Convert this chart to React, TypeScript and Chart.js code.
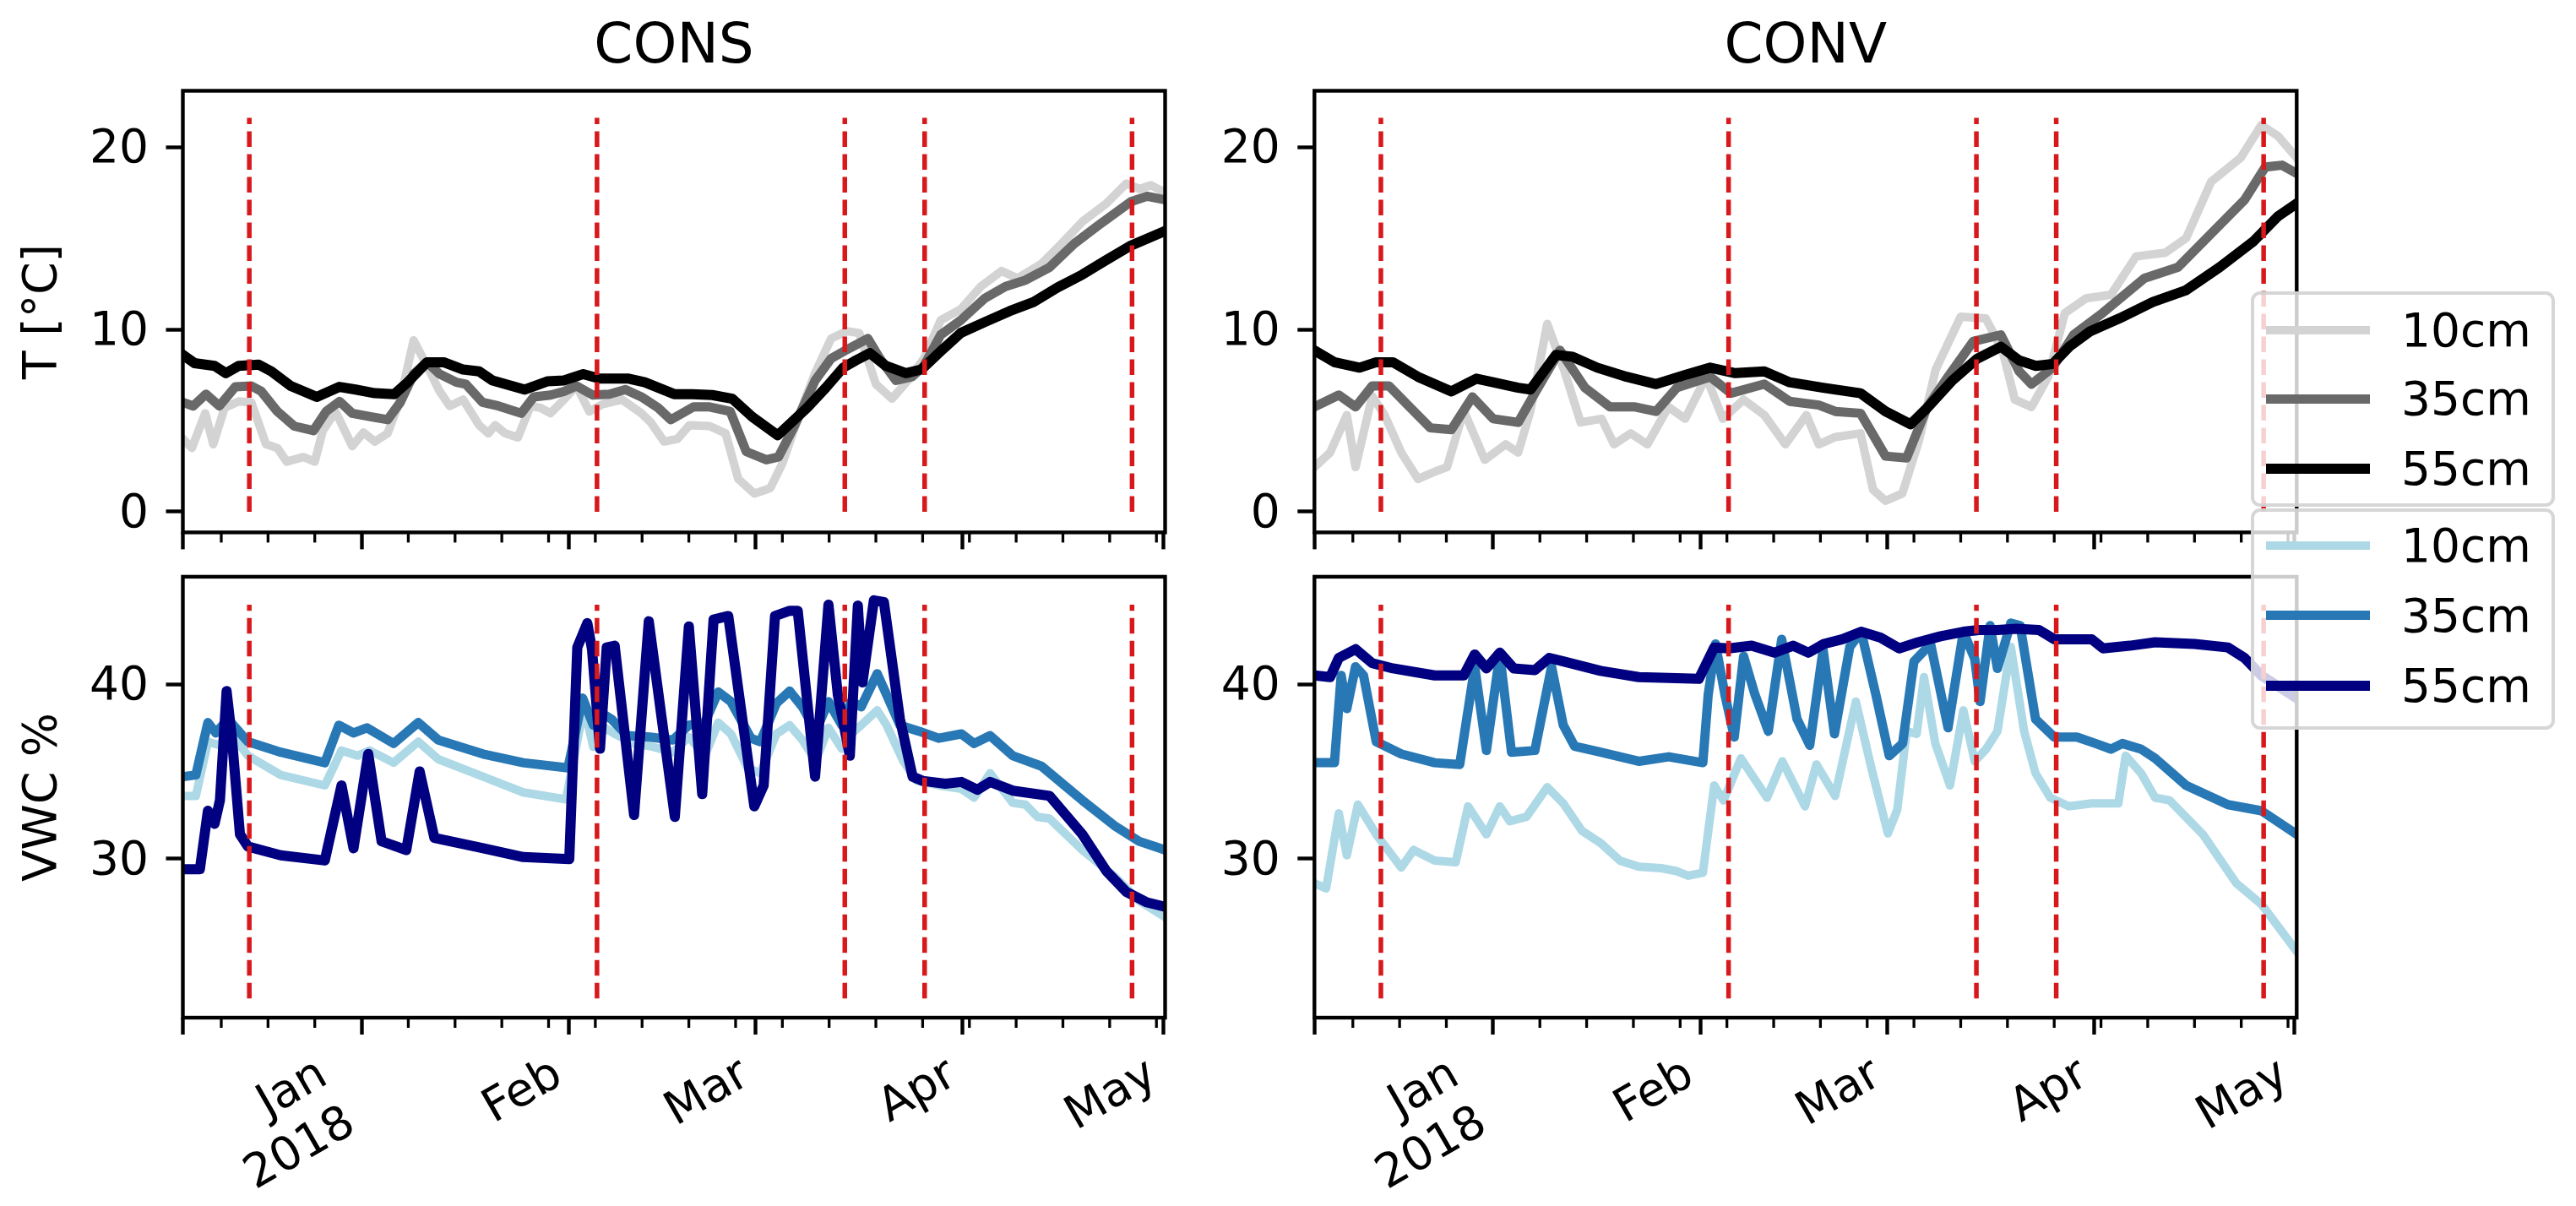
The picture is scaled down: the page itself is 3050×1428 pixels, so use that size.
import React, { useEffect, useRef } from 'react';
import { Chart, registerables } from 'chart.js';

Chart.register(...registerables);

const FONT = "'DejaVu Sans', 'Noto Sans', sans-serif";
const FS = 55;
const TITLE_FS = 66;

// ---- axes / events ----
const X_MIN = -26.75;
const X_MAX = 120.3;
const MONTH_TICKS = [0, 31, 59, 90, 120];
const MONTH_LABELS = [['Jan', '2018'], ['Feb'], ['Mar'], ['Apr'], ['May']];
const MINOR_TICKS = [-21, -14, -7, 7, 14, 21, 28, 35, 42, 49, 56, 63, 70, 77, 84, 91, 98, 105, 112, 119];
const EVENT_DAYS = [-16.8, 35.25, 72.35, 84.3, 115.35];
const T_TICKS = [0, 10, 20];
const VWC_TICKS = [30, 40];
const T_RANGE = [-1.13, 23.08];
const VWC_RANGE = [20.9, 46.15];
const T_EVENT_SPAN = [0, 21.6];
const VWC_EVENT_SPAN = [22.0, 44.55];
const DEPTHS = ['10cm', '35cm', '55cm'];
const T_COLORS = ['#d3d3d3', '#696969', '#000000'];
const VWC_COLORS = ['#add8e6', '#2878b5', '#000080'];
const LINE_WIDTHS = [10, 11, 12];
const EVENT_COLOR = '#d7191c';

// ---- CONS temperature ----
const consT10Days = [-26.75, -25.4, -23.4, -22.2, -20.5, -18.4, -16.5, -14.3, -12.6, -11.2, -8.7, -7.0, -5.8, -3.9, -1.4, 0.3, 2.0, 3.9, 5.8, 7.8, 9.8, 11.7, 13.2, 15.2, 17.6, 19.0, 20.0, 21.5, 23.4, 25.3, 26.8, 28.3, 30.3, 32.2, 34.1, 36.1, 39.0, 41.9, 43.3, 45.3, 47.3, 49.1, 52.1, 54.5, 56.4, 58.8, 61.2, 63, 65.5, 67.9, 70.3, 72.7, 74.5, 77, 79.4, 81.8, 84.2, 86.7, 89.7, 92.7, 95.8, 98.2, 101.8, 104.8, 107.9, 111.5, 114.5, 116.4, 118.2, 120.3];
const consT10 = [4.0, 3.5, 5.4, 3.7, 5.7, 6.05, 6.0, 3.7, 3.5, 2.75, 3.0, 2.75, 4.45, 5.5, 3.6, 4.35, 3.85, 4.3, 6.15, 9.4, 8.0, 6.6, 5.8, 6.15, 4.75, 4.3, 4.75, 4.3, 4.07, 5.8, 5.7, 5.4, 6.15, 6.9, 5.5, 5.9, 6.15, 5.4, 4.9, 3.85, 4.0, 4.75, 4.7, 4.3, 1.8, 1.0, 1.3, 2.65, 5.3, 7.6, 9.5, 9.9, 9.8, 7.0, 6.2, 7.2, 8.4, 10.5, 11.1, 12.35, 13.2, 12.8, 13.6, 14.7, 15.9, 16.9, 18.0, 17.7, 17.9, 17.5];

const consT35Days = [-26.75, -25.2, -23.3, -21.3, -18.9, -16.5, -15.0, -12.6, -10.1, -7.2, -5.3, -3.3, -1.4, 1.5, 3.9, 5.8, 7.8, 9.8, 11.7, 14.2, 15.6, 18.1, 20.5, 23.9, 25.8, 28.3, 30.3, 32.2, 34.6, 37.1, 39.5, 41.9, 44.4, 46.3, 49.7, 52.1, 55.2, 57.6, 60.6, 62.4, 64.8, 67.9, 70.3, 72.7, 75.8, 77.6, 80, 82.4, 84.2, 86.7, 89.7, 93.3, 96.4, 99.4, 103, 106.7, 110.3, 115.2, 117.6, 120.3];
const consT35 = [6.0, 5.8, 6.45, 5.8, 6.85, 6.9, 6.6, 5.5, 4.7, 4.45, 5.5, 6.05, 5.4, 5.2, 5.05, 6.0, 7.55, 8.2, 7.55, 7.1, 7.0, 6.0, 5.8, 5.4, 6.3, 6.4, 6.6, 6.9, 6.4, 6.45, 6.7, 6.3, 5.7, 5.05, 5.75, 5.75, 5.5, 3.3, 2.85, 3.0, 4.7, 7.2, 8.4, 8.9, 9.5, 8.4, 7.2, 7.4, 8.0, 9.7, 10.5, 11.7, 12.35, 12.7, 13.4, 14.7, 15.7, 17.0, 17.3, 17.1];

const consT55Days = [-26.75, -25, -22, -20.3, -18.4, -15.4, -13.5, -10.6, -6.7, -3.3, -0.9, 2, 4.9, 6.9, 9.8, 12.3, 15.2, 17.6, 19.6, 24.4, 27.8, 30.3, 33.2, 35.6, 40, 42.4, 46.8, 49.5, 52.5, 55.5, 58.5, 62.3, 66.7, 69.5, 72.1, 74, 76.1, 78.5, 81.5, 83.8, 86.7, 89.7, 93.3, 97, 100.6, 104.2, 107.9, 111.5, 115.2, 120.3];
const consT55 = [8.6, 8.15, 8.0, 7.6, 8.0, 8.07, 7.7, 6.9, 6.3, 6.85, 6.7, 6.5, 6.45, 7.1, 8.2, 8.2, 7.8, 7.7, 7.2, 6.7, 7.15, 7.2, 7.55, 7.3, 7.3, 7.1, 6.45, 6.45, 6.4, 6.2, 5.2, 4.2, 5.7, 6.8, 7.9, 8.3, 8.7, 8.0, 7.6, 7.8, 8.8, 9.8, 10.4, 11.0, 11.5, 12.3, 13.0, 13.8, 14.6, 15.4];

// ---- CONV temperature ----
const convT10Days = [-26.75, -24.4, -21.9, -20.6, -18.1, -16.25, -13.75, -11.25, -8.75, -6.9, -4.4, -1.25, 1.9, 3.75, 5.6, 8.1, 10.6, 13.1, 16.25, 18.1, 20.6, 23.1, 26.25, 28.75, 31.9, 34.4, 37.5, 40.6, 43.75, 46.9, 48.75, 51.25, 55, 56.9, 58.75, 61.25, 63.75, 66.25, 70, 73.75, 76.25, 78.1, 80.6, 83.1, 85.6, 88.75, 92.5, 96.25, 100.6, 103.75, 107.5, 111.9, 115, 117.5, 120.3];
const convT10 = [2.45, 3.25, 5.3, 2.45, 6.35, 5.3, 3.25, 1.8, 2.2, 2.45, 5.55, 2.85, 3.7, 3.25, 5.55, 10.3, 7.8, 4.9, 5.1, 3.7, 4.3, 3.7, 5.75, 5.1, 7.4, 5.1, 6.15, 5.3, 3.7, 5.3, 3.7, 4.1, 4.3, 1.2, 0.6, 1.0, 3.9, 7.8, 10.7, 10.6, 8.85, 6.15, 5.75, 7.4, 10.9, 11.7, 11.9, 14.0, 14.2, 15.0, 18.1, 19.4, 21.2, 20.6, 19.4];

const convT35Days = [-26.75, -23.1, -20.6, -18.1, -15.6, -12.5, -9.4, -6.25, -3.1, 0, 3.75, 6.25, 10, 13.75, 17.5, 21.25, 24.4, 27.5, 32.5, 35.6, 40.6, 44.4, 48.75, 51.25, 55, 58.75, 61.9, 65, 68.1, 71.9, 76, 78.75, 80.6, 83.75, 86.9, 91.25, 97.5, 102.5, 107.5, 112.5, 115.6, 118.1, 120.3];
const convT35 = [5.75, 6.4, 5.75, 6.9, 6.9, 5.75, 4.6, 4.5, 6.3, 5.1, 4.9, 6.5, 8.85, 6.8, 5.75, 5.75, 5.5, 6.8, 7.4, 6.5, 7.0, 6.05, 5.85, 5.5, 5.4, 3.05, 2.95, 5.75, 7.4, 9.35, 9.7, 7.7, 7.0, 7.9, 9.7, 10.9, 12.8, 13.4, 15.25, 17.1, 18.9, 19.0, 18.55];

const convT55Days = [-26.75, -23.75, -20, -17.5, -15, -11.25, -6.25, -2.5, 0, 3.75, 5.6, 9.4, 11.9, 15.6, 20, 24.4, 28.75, 32.5, 36.25, 40.6, 44.4, 49.4, 55, 58.75, 62.5, 65, 68.75, 72.5, 76, 78.75, 81.25, 83.75, 86.25, 89.4, 93.75, 98.75, 103.75, 108.75, 113.75, 117.5, 120.3];
const convT55 = [8.85, 8.2, 7.9, 8.2, 8.2, 7.4, 6.6, 7.3, 7.1, 6.8, 6.7, 8.6, 8.5, 7.9, 7.4, 7.0, 7.5, 7.9, 7.6, 7.7, 7.1, 6.8, 6.5, 5.5, 4.8, 5.7, 7.2, 8.4, 9.05, 8.3, 8.0, 8.1, 9.05, 9.9, 10.6, 11.5, 12.15, 13.4, 14.8, 16.2, 16.9];

// ---- CONS VWC ----
const consW10Days = [-26.75, -24.8, -23, -21.2, -20, -17, -12.1, -5.5, -3, -0.6, 1.2, 4.8, 8.5, 11.5, 18.2, 24.2, 30.6, 33.3, 34.7, 36.4, 37.9, 40.8, 43.2, 46.6, 49.0, 51.4, 53.4, 55.3, 57.8, 59.7, 62.1, 64.1, 66, 68, 69.9, 71.9, 73.3, 74.8, 77.2, 78.6, 81.1, 83, 86.4, 89.8, 91.7, 94.1, 96.1, 97.5, 99.4, 101.2, 103, 107.9, 112.7, 116.4, 120.3];
const consW10 = [33.6, 33.6, 36.7, 36.5, 37.4, 35.9, 34.8, 34.2, 36.2, 35.9, 36.2, 35.5, 36.7, 35.7, 34.7, 33.8, 33.4, 38.7, 36.4, 37.5, 37.15, 36.6, 36.45, 36.1, 36.97, 35.9, 37.8, 37.15, 35.2, 34.9, 37.15, 37.65, 36.8, 35.6, 37.5, 36.3, 37.15, 37.65, 38.5, 37.65, 35.6, 34.5, 34.2, 34.0, 33.5, 34.9, 33.9, 33.2, 33.1, 32.4, 32.3, 30.5, 29.0, 27.6, 26.65];

const consW35Days = [-26.75, -24.8, -23, -21.8, -20, -17, -12.1, -5.5, -3.4, -1.2, 0.8, 4.8, 8.5, 11.5, 18.2, 24.2, 30.9, 33.1, 34.7, 35.9, 37.4, 39.8, 43.2, 46.6, 49.0, 51.4, 53.4, 55.3, 58.3, 59.7, 62.1, 64.1, 66.0, 68, 69.9, 71.9, 73.3, 74.8, 77.2, 78.6, 80.6, 83.5, 86.4, 89.8, 91.7, 94.1, 97.5, 101.8, 107.9, 112.7, 116.4, 120.3];
const consW35 = [34.7, 34.8, 37.8, 37.2, 38.0, 36.7, 36.1, 35.5, 37.65, 37.2, 37.5, 36.6, 37.8, 36.8, 36.0, 35.5, 35.2, 39.2, 37.65, 38.35, 38.0, 37.05, 36.97, 36.8, 37.65, 37.8, 39.55, 39.0, 36.9, 36.7, 38.9, 39.6, 38.7, 37.3, 39.0, 37.65, 39.0, 38.7, 40.6, 39.4, 37.65, 37.3, 36.9, 37.15, 36.6, 37.05, 35.9, 35.3, 33.35, 31.9, 31.0, 30.5];

const consW55Days = [-26.75, -24.2, -23, -22, -21.2, -20.2, -19.4, -18.2, -17, -12.1, -5.5, -3, -1.2, 1.0, 3.0, 6.7, 8.7, 10.9, 18.2, 24.2, 31.1, 32.3, 33.8, 34.5, 35.7, 36.7, 37.9, 40.8, 43.0, 46.9, 49.0, 51.0, 52.7, 54.9, 58.8, 60.2, 61.9, 64.1, 65.3, 67.9, 69.9, 71.3, 73.1, 74.3, 75, 76.7, 78.2, 80.6, 82.5, 84, 87.4, 89.8, 92.2, 94.1, 97.5, 103, 107.9, 111.5, 114.5, 117.6, 120.3];
const consW55 = [29.4, 29.4, 32.75, 32.0, 33.35, 39.6, 36.9, 31.4, 30.7, 30.2, 29.9, 34.2, 30.6, 36.0, 31.0, 30.5, 35.0, 31.2, 30.6, 30.1, 29.98, 42.1, 43.5, 42.0, 36.3, 42.1, 42.2, 32.5, 43.6, 32.4, 43.3, 33.7, 43.7, 43.9, 33.0, 34.2, 43.9, 44.2, 44.2, 34.7, 44.55, 39.4, 35.9, 44.5, 40.1, 44.8, 44.7, 38.0, 34.7, 34.46, 34.3, 34.4, 33.95, 34.4, 33.9, 33.6, 31.4, 29.3, 28.1, 27.5, 27.25];

// ---- CONV VWC ----
const convW10Days = [-26.75, -25, -23.1, -21.9, -20.25, -17.5, -13.75, -11.9, -8.75, -5.6, -3.75, -1, 1, 2.5, 5, 8.1, 10.5, 13.3, 16.1, 19, 21.8, 25.2, 27.5, 29.2, 31.4, 33.1, 34.5, 37.1, 41, 43.3, 46.7, 48.4, 51.2, 54.3, 56.6, 59.1, 60.5, 61.9, 63.4, 64.5, 66.2, 68.4, 70.4, 72.1, 73.8, 75.5, 77.5, 79.5, 81.2, 83.4, 86.2, 89.6, 93.6, 94.7, 97, 99.1, 101.25, 106.25, 111.25, 115, 120.3];
const convW10 = [28.6, 28.3, 32.6, 30.2, 33.1, 31.4, 29.5, 30.5, 29.9, 29.8, 33.0, 31.4, 33.0, 32.15, 32.4, 34.1, 33.17, 31.6, 30.9, 29.89, 29.55, 29.46, 29.29, 29.03, 29.2, 34.2, 33.34, 35.75, 33.5, 35.58, 33.0, 35.4, 33.6, 39.0, 35.24, 31.45, 32.8, 37.3, 37.15, 40.4, 36.6, 34.2, 38.5, 35.58, 36.28, 37.3, 42.14, 37.3, 34.9, 33.5, 33.0, 33.17, 33.17, 35.9, 34.9, 33.5, 33.35, 31.4, 28.6, 27.4, 24.7];

const convW35Days = [-26.75, -23.75, -22.75, -21.9, -20.6, -19.4, -17.5, -13.75, -8.75, -5, -2.75, -1, 1, 2.75, 6.25, 8.75, 10.5, 12.2, 16.1, 21.8, 26.3, 31.4, 32.2, 33.3, 34.7, 36.1, 37.5, 39.2, 41.2, 43.2, 45.5, 47.4, 49.4, 51.1, 53.4, 55.1, 57.3, 59.3, 61.3, 63, 65.5, 68.1, 70.4, 72.1, 72.9, 74.4, 75.5, 77.5, 78.9, 81.2, 84, 87.4, 90.2, 92.5, 94.2, 97, 99.1, 103.75, 110, 115, 120.3];
const convW35 = [35.5, 35.5, 40.5, 38.6, 41.0, 40.5, 36.7, 36.0, 35.5, 35.4, 41.0, 36.2, 41.7, 36.1, 36.2, 41.0, 37.65, 36.44, 36.1, 35.58, 35.84, 35.5, 39.4, 42.3, 39.4, 36.97, 41.6, 39.4, 37.3, 42.57, 38.0, 36.5, 41.97, 37.15, 42.14, 43.0, 39.4, 35.9, 36.6, 41.3, 42.3, 37.5, 43.0, 41.45, 39.0, 43.35, 40.9, 43.5, 43.35, 38.0, 36.97, 36.97, 36.6, 36.28, 36.6, 36.28, 35.75, 34.2, 33.1, 32.75, 31.4];

const convW55Days = [-26.75, -24.4, -23.1, -20.6, -18.1, -15, -8.75, -4.4, -2.75, -1, 1, 3.1, 6.25, 8.4, 10.5, 16.1, 21.8, 30.8, 33.1, 35.3, 38.7, 42.1, 44.9, 47.2, 49.5, 52.3, 55.1, 58, 60.8, 63.6, 67, 70.4, 72.7, 75.5, 78.3, 81.7, 84, 86.8, 89.6, 91.3, 95.3, 99.1, 105, 110, 112.5, 115, 120.3];
const convW55 = [40.5, 40.4, 41.5, 42.0, 41.2, 40.9, 40.5, 40.5, 41.7, 40.9, 41.8, 40.9, 40.8, 41.5, 41.3, 40.76, 40.4, 40.3, 42.1, 42.05, 42.2, 41.8, 42.2, 41.8, 42.3, 42.57, 43.0, 42.66, 42.05, 42.4, 42.74, 43.0, 43.1, 43.1, 43.17, 43.1, 42.57, 42.57, 42.57, 42.05, 42.2, 42.4, 42.3, 42.1, 41.5, 40.5, 39.2];

type Series = [number[], number[]];

interface PanelSpec {
  key: string;
  x: number; y: number; w: number; h: number;
  area: { l: number; t: number; r: number; b: number };
  yRange: number[];
  yTicks: number[];
  yTitle?: string;
  title?: string;
  xLabels: boolean;
  series: Series[];
  colors: string[];
  eventSpan: number[];
}

const TOP_H = 656;
const PANELS: PanelSpec[] = [
  {
    key: 'tl', x: 0, y: 0, w: 1420, h: TOP_H,
    area: { l: 216.5, t: 107.5, r: 1379.5, b: 630.4 },
    yRange: T_RANGE, yTicks: T_TICKS, yTitle: 'T [°C]', title: 'CONS', xLabels: false,
    series: [[consT10Days, consT10], [consT35Days, consT35], [consT55Days, consT55]],
    colors: T_COLORS, eventSpan: T_EVENT_SPAN,
  },
  {
    key: 'tr', x: 1420, y: 0, w: 1340, h: TOP_H,
    area: { l: 1556.3, t: 107.5, r: 2719.3, b: 630.4 },
    yRange: T_RANGE, yTicks: T_TICKS, title: 'CONV', xLabels: false,
    series: [[convT10Days, convT10], [convT35Days, convT35], [convT55Days, convT55]],
    colors: T_COLORS, eventSpan: T_EVENT_SPAN,
  },
  {
    key: 'bl', x: 0, y: TOP_H, w: 1420, h: 1428 - TOP_H,
    area: { l: 216.5, t: 682.9, r: 1379.5, b: 1205 },
    yRange: VWC_RANGE, yTicks: VWC_TICKS, yTitle: 'VWC %', xLabels: true,
    series: [[consW10Days, consW10], [consW35Days, consW35], [consW55Days, consW55]],
    colors: VWC_COLORS, eventSpan: VWC_EVENT_SPAN,
  },
  {
    key: 'br', x: 1420, y: TOP_H, w: 1340, h: 1428 - TOP_H,
    area: { l: 1556.3, t: 682.9, r: 2719.3, b: 1205 },
    yRange: VWC_RANGE, yTicks: VWC_TICKS, xLabels: true,
    series: [[convW10Days, convW10], [convW35Days, convW35], [convW55Days, convW55]],
    colors: VWC_COLORS, eventSpan: VWC_EVENT_SPAN,
  },
];

function Panel({ spec }: { spec: PanelSpec }) {
  const ref = useRef<HTMLCanvasElement | null>(null);
  useEffect(() => {
    const canvas = ref.current;
    if (!canvas) return;
    const yAxisW = spec.area.l - spec.x;
    const padTop = spec.area.t - spec.y;
    const padRight = spec.x + spec.w - spec.area.r;
    const xAxisH = spec.y + spec.h - spec.area.b;

    const datasets: any[] = [];
    EVENT_DAYS.forEach((d) => {
      datasets.push({
        data: [{ x: d, y: spec.eventSpan[0] }, { x: d, y: spec.eventSpan[1] }],
        borderColor: EVENT_COLOR,
        borderWidth: 5.5,
        borderDash: [18.5, 8.5],
        pointRadius: 0,
        clip: 0,
      });
    });
    for (let i = 2; i >= 0; i--) {
      const [days, vals] = spec.series[i];
      datasets.push({
        label: DEPTHS[i],
        data: days.map((d, j) => ({ x: d, y: vals[j] })),
        borderColor: spec.colors[i],
        borderWidth: LINE_WIDTHS[i],
        pointRadius: 0,
        tension: 0,
        borderJoinStyle: 'round',
        borderCapStyle: 'square',
        clip: 0,
      });
    }

    const decor = {
      id: 'decor',
      afterDraw(chart: any) {
        const { ctx, chartArea: a } = chart;
        const xs = chart.scales.x;
        ctx.save();
        ctx.strokeStyle = '#000';
        ctx.lineWidth = 3.3;
        for (const d of MINOR_TICKS) {
          const px = xs.getPixelForValue(d);
          ctx.beginPath();
          ctx.moveTo(px, a.bottom);
          ctx.lineTo(px, a.bottom + 12);
          ctx.stroke();
        }
        ctx.lineWidth = 4.4;
        ctx.strokeRect(a.left, a.top, a.right - a.left, a.bottom - a.top);
        ctx.fillStyle = '#000';
        if (spec.title) {
          ctx.font = `${TITLE_FS}px ${FONT}`;
          ctx.textAlign = 'center';
          ctx.textBaseline = 'alphabetic';
          ctx.fillText(spec.title, (a.left + a.right) / 2, 73.5 - spec.y);
        }
        if (spec.xLabels) {
          ctx.font = `${FS}px ${FONT}`;
          ctx.textAlign = 'right';
          ctx.textBaseline = 'alphabetic';
          MONTH_TICKS.forEach((v, i) => {
            const lines = MONTH_LABELS[i];
            const px = xs.getPixelForValue(v);
            const V = 51 + 66 * (lines.length - 1) + 13;
            const ax = px - V * 0.5 + 2;
            const ay = a.bottom + 32.5;
            ctx.save();
            ctx.translate(ax, ay);
            ctx.rotate(-Math.PI / 6);
            lines.forEach((ln, j) => ctx.fillText(ln, 0, 51 + 66 * j));
            ctx.restore();
          });
        }
        ctx.restore();
      },
    };

    const chart = new Chart(canvas, {
      type: 'line',
      data: { datasets },
      options: {
        animation: false,
        responsive: false,
        devicePixelRatio: 1,
        events: [],
        layout: { padding: { top: padTop, right: padRight, left: 0, bottom: 0 }, autoPadding: false },
        plugins: { legend: { display: false }, tooltip: { enabled: false }, title: { display: false } },
        scales: {
          x: {
            type: 'linear',
            min: X_MIN,
            max: X_MAX,
            afterBuildTicks: (s: any) => {
              s.ticks = [X_MIN, ...MONTH_TICKS].map((v) => ({ value: v }));
            },
            ticks: { display: false },
            grid: { drawOnChartArea: false, drawTicks: true, tickLength: 20, tickWidth: 4.4, tickColor: '#000' },
            border: { display: false },
            afterFit: (s: any) => {
              s.height = xAxisH;
              s.paddingLeft = 0; s.paddingRight = 0; s.paddingTop = 0; s.paddingBottom = 0;
            },
          },
          y: {
            type: 'linear',
            min: spec.yRange[0],
            max: spec.yRange[1],
            afterBuildTicks: (s: any) => {
              s.ticks = spec.yTicks.map((v) => ({ value: v }));
            },
            ticks: {
              font: { family: FONT, size: FS },
              color: '#000',
              padding: 20.5,
              labelOffset: 3.5,
              callback: (v: any) => String(v),
            },
            grid: { drawOnChartArea: false, drawTicks: true, tickLength: 20, tickWidth: 4.4, tickColor: '#000' },
            border: { display: false },
            title: {
              display: !!spec.yTitle,
              text: spec.yTitle || '',
              font: { family: FONT, size: FS },
              color: '#000',
              padding: { top: 18.8, bottom: 0 },
            },
            afterFit: (s: any) => {
              s.width = yAxisW;
              s.paddingLeft = 0; s.paddingRight = 0; s.paddingTop = 0; s.paddingBottom = 0;
            },
          },
        },
      } as any,
      plugins: [decor],
    });
    return () => chart.destroy();
  }, [spec]);
  return (
    <canvas
      ref={ref}
      width={spec.w}
      height={spec.h}
      style={{ position: 'absolute', left: spec.x, top: spec.y, width: spec.w, height: spec.h }}
    />
  );
}

interface LegendSpec { top: number; height: number; colors: string[]; rows: number[] }
const LEGENDS: LegendSpec[] = [
  { top: 345, height: 255, colors: T_COLORS, rows: [391, 472, 554.5] },
  { top: 602, height: 262, colors: VWC_COLORS, rows: [646.3, 728.6, 812] },
];
const LEG_LEFT = 2665;
const LEG_W = 360;

function Legend({ spec }: { spec: LegendSpec }) {
  return (
    <div
      style={{
        position: 'absolute', left: LEG_LEFT, top: spec.top, width: LEG_W, height: spec.height,
        boxSizing: 'border-box', border: '4px solid rgba(204,204,204,0.8)', borderRadius: 11,
        background: 'rgba(255,255,255,0.8)',
      }}
    >
      {DEPTHS.map((label, i) => {
        const cy = spec.rows[i] - spec.top - 4;
        return (
          <React.Fragment key={label}>
            <div style={{ position: 'absolute', left: 14, top: cy - LINE_WIDTHS[i] / 2, width: 123, height: LINE_WIDTHS[i], background: spec.colors[i] }} />
            <div style={{ position: 'absolute', left: 174, top: cy - 40, height: 80, lineHeight: '80px', fontFamily: FONT, fontSize: FS, color: '#000', whiteSpace: 'nowrap' }}>{label}</div>
          </React.Fragment>
        );
      })}
    </div>
  );
}

export default function App() {
  return (
    <div style={{ position: 'absolute', left: 0, top: 0, width: 3050, height: 1428, background: '#fff', overflow: 'hidden' }}>
      {PANELS.map((p) => <Panel key={p.key} spec={p} />)}
      {LEGENDS.map((l, i) => <Legend key={i} spec={l} />)}
    </div>
  );
}
